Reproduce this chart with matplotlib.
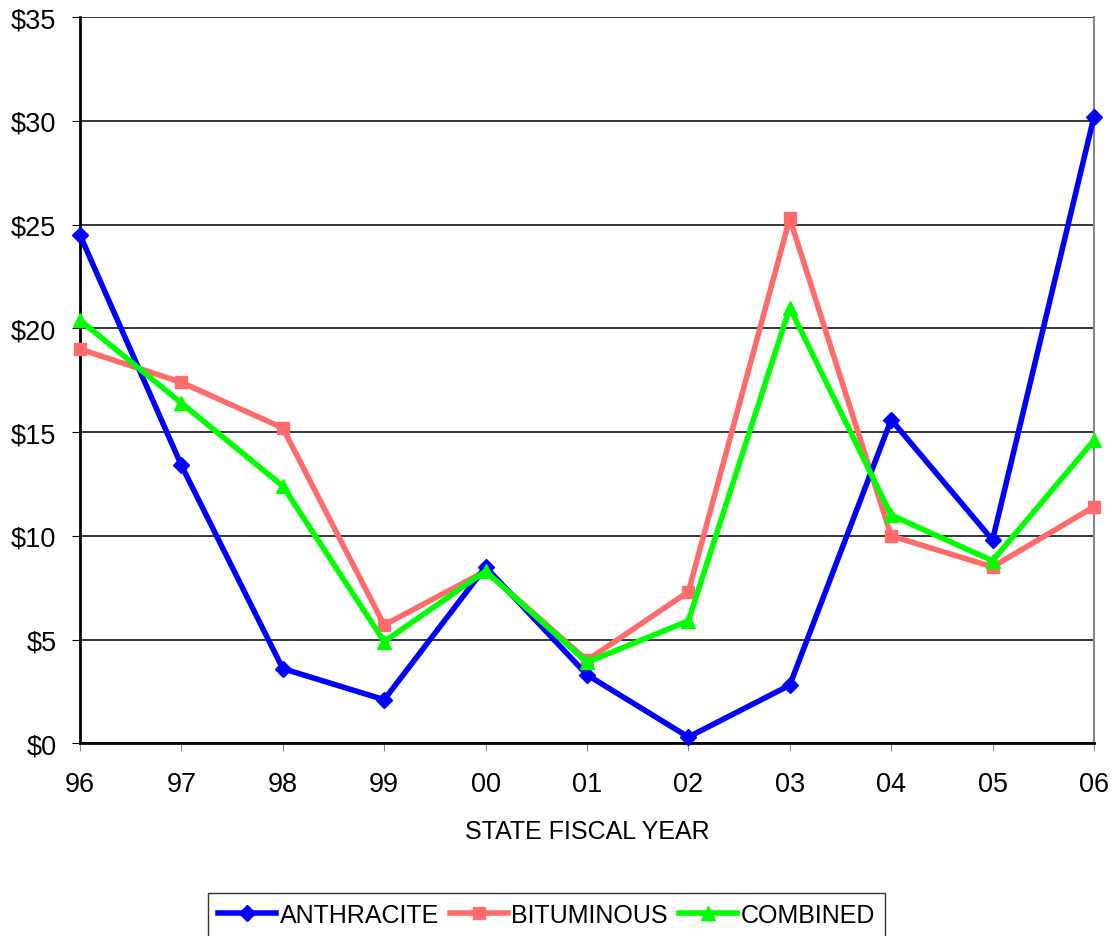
import matplotlib
matplotlib.use("Agg")
import matplotlib.pyplot as plt

plt.rcParams["font.family"] = ["Liberation Sans", "DejaVu Sans"]

years = ["96", "97", "98", "99", "00", "01", "02", "03", "04", "05", "06"]
anthracite = [24.5, 13.4, 3.6, 2.1, 8.5, 3.3, 0.3, 2.8, 15.6, 9.8, 30.2]
bituminous = [19.0, 17.4, 15.2, 5.7, 8.3, 4.0, 7.3, 25.3, 10.0, 8.5, 11.4]
combined = [20.4, 16.4, 12.4, 4.9, 8.3, 3.9, 5.9, 21.0, 11.0, 8.8, 14.6]
yticks = [0, 5, 10, 15, 20, 25, 30, 35]

fig = plt.figure(figsize=(11.14, 9.37), dpi=100)
ax = fig.add_axes([0.0718, 0.2057, 0.9102, 0.7748])

x = range(len(years))
ax.plot(x, anthracite, color="#0000FF", lw=4, marker="D", ms=8,
        label="ANTHRACITE", clip_on=False, zorder=5)
ax.plot(x, bituminous, color="#FF6B6B", lw=4, marker="s", ms=9,
        label="BITUMINOUS", clip_on=False, zorder=4)
ax.plot(x, combined, color="#00FF00", lw=4, marker="^", ms=10,
        label="COMBINED", clip_on=False, zorder=6)

ax.set_xlim(0, len(years) - 1)
ax.set_ylim(0, 35)
ax.set_xticks(list(x))
ax.set_xticklabels(years)
ax.set_yticks(yticks)
ax.set_yticklabels([f"${v}" for v in yticks])
ax.tick_params(axis="both", labelsize=19.5, direction="out", length=6)
ax.tick_params(axis="x", color="#888888", pad=14)
ax.tick_params(axis="y", pad=11)
ax.yaxis.grid(True, color="black", lw=1.1)
ax.set_axisbelow(True)

ax.spines["top"].set_visible(False)
ax.spines["right"].set_color("#888888")
ax.spines["right"].set_linewidth(1.5)
ax.spines["left"].set_linewidth(2)
ax.spines["bottom"].set_linewidth(2)

ax.set_xlabel("STATE FISCAL YEAR", fontsize=18, labelpad=16)

leg = fig.legend(loc="upper left", bbox_to_anchor=(0.187, 0.046), ncol=3,
                 fontsize=18, frameon=True, fancybox=False, edgecolor="black",
                 handlelength=2.3, handletextpad=0.15, columnspacing=0.45,
                 borderpad=0.4, borderaxespad=0)
leg.get_frame().set_linewidth(1.0)

fig.savefig("out.png", dpi=100)
